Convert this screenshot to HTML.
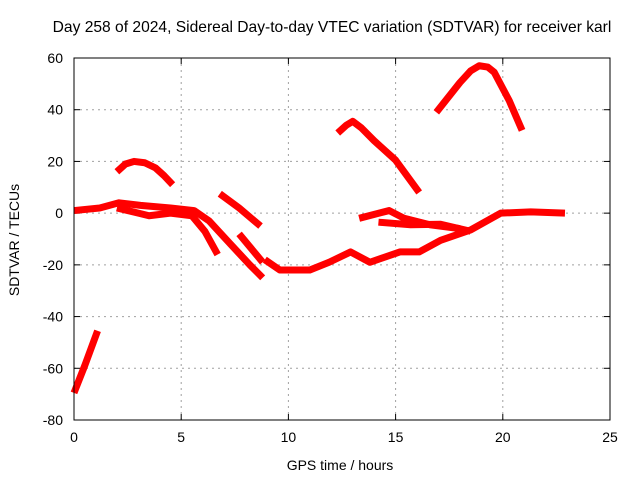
<!DOCTYPE html>
<html><head><meta charset="utf-8"><style>
body{margin:0;background:#fff}
svg text{font-family:"Liberation Sans",sans-serif;font-size:14px;fill:#000}
</style></head><body>
<svg id="chart" width="640" height="480" xmlns="http://www.w3.org/2000/svg">
<text x="332" y="32" text-anchor="middle" style="font-size:15.6px">Day 258 of 2024, Sidereal Day-to-day VTEC variation (SDTVAR) for receiver karl</text>
<text x="340" y="470" text-anchor="middle">GPS time / hours</text>
<text transform="translate(19,240) rotate(-90)" text-anchor="middle">SDTVAR / TECUs</text>
<g id="grid"></g><g id="ticks"></g><g id="marks"></g>
<rect x="74" y="58" width="536" height="362" fill="none" stroke="#000" stroke-width="1"/>
</svg>
<script>
const xTicks=[0,5,10,15,20,25];
const yTicks=[60,40,20,0,-20,-40,-60,-80];
const seg1=[[0,-69.5],[0.5,-59],[1.1,-45.5]];
const seg2=[[0,1],[1.2,2],[2.1,4],[3.1,3],[4.5,2],[5.6,1],[6.3,-3],[7.3,-12],[8.2,-20],[8.8,-25]];
const seg3=[[2,2],[3,0],[3.5,-1],[4.5,0],[5.5,-1],[6.1,-7],[6.7,-16]];
const seg4=[[2,16],[2.4,19],[2.8,20],[3.3,19.5],[3.8,17.5],[4.2,14.5],[4.6,11]];
const seg5=[[6.8,7.5],[7.7,2],[8.7,-5]];
const seg6=[[7.7,-8],[8.8,-19]];
const seg7=[[8.9,-18],[9.6,-22],[11,-22],[11.9,-19],[12.9,-15],[13.8,-19],[15.2,-15],[16.1,-15],[17.1,-10.5],[18.5,-6.5],[19.9,0],[21.3,0.5],[22.9,0]];
const seg8=[[13.3,-2],[14.7,1],[15.4,-2],[16.6,-4.5],[18,-6]];
const seg9=[[14.2,-3.5],[15.7,-4.5],[17.1,-4.3],[18.5,-7]];
const seg10=[[12.3,31],[12.7,34],[13,35.5],[13.4,33],[14,28],[15,20.5],[16.1,8]];
const seg11=[[16.9,39],[18,50.5],[18.5,55],[18.9,57],[19.3,56.5],[19.6,54.5],[20.3,43.5],[20.9,32]];
const series=[seg1,seg2,seg3,seg4,seg5,seg6,seg7,seg8,seg9,seg10,seg11];
const NS="http://www.w3.org/2000/svg";
const X=v=>74+v*536/25, Y=v=>58+(60-v)*362/140;
const grid=document.getElementById('grid'),ticks=document.getElementById('ticks'),marks=document.getElementById('marks');
function mk(t,a,p){const e=document.createElementNS(NS,t);for(const k in a)e.setAttribute(k,a[k]);p.appendChild(e);return e;}
xTicks.forEach(v=>{
 if(v>0&&v<25){const g=mk('line',{x1:X(v),x2:X(v),y1:58,y2:420,stroke:'#a0a0a0','stroke-dasharray':'2,4'},grid);
 
 }
 const t=mk('text',{x:X(v),y:442,'text-anchor':'middle'},ticks);t.textContent=v;
 
 
 mk('line',{x1:X(v),x2:X(v),y1:420,y2:414,stroke:'#000'},ticks);
 mk('line',{x1:X(v),x2:X(v),y1:58,y2:64,stroke:'#000'},ticks);
});
yTicks.forEach(v=>{
 if(v>-80&&v<60){const g=mk('line',{x1:74,x2:610,y1:Y(v),y2:Y(v),stroke:'#a0a0a0','stroke-dasharray':'2,4'},grid);
 
 }
 const t=mk('text',{x:63,y:Y(v)+5,'text-anchor':'end'},ticks);t.textContent=v;
 
 
 mk('line',{x1:74,x2:80,y1:Y(v),y2:Y(v),stroke:'#000'},ticks);
 mk('line',{x1:604,x2:610,y1:Y(v),y2:Y(v),stroke:'#000'},ticks);
});
series.forEach((s,i)=>{
 const p=mk('polyline',{points:s.map(d=>X(d[0])+','+Y(d[1])).join(' '),fill:'none',stroke:'#ff0000','stroke-width':7,'stroke-linejoin':'round'},marks);
 
 
});
</script>
</body></html>
